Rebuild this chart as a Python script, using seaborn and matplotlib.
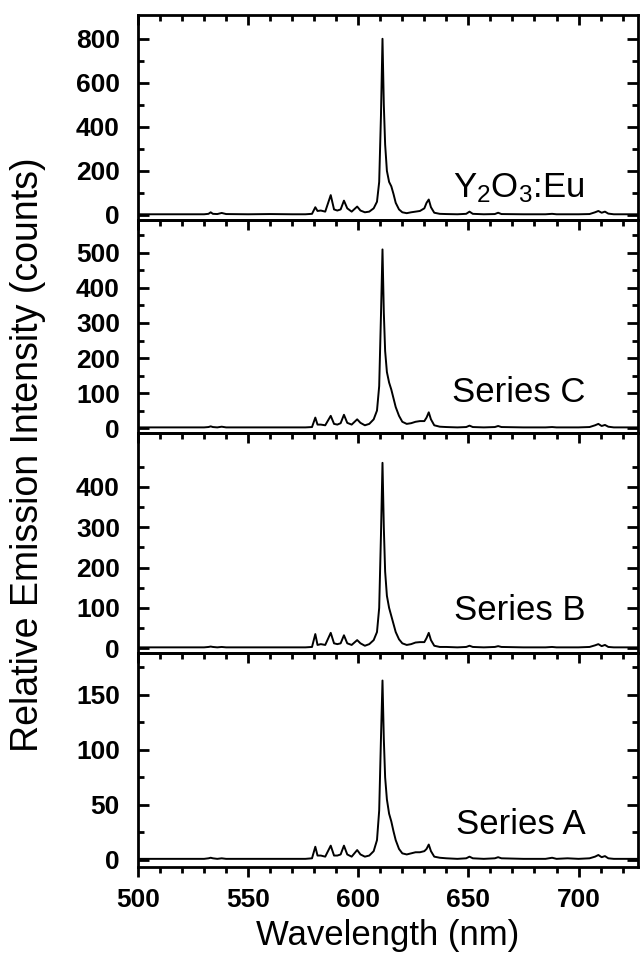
import matplotlib
matplotlib.use("Agg")
import matplotlib.pyplot as plt
from matplotlib.ticker import FixedLocator, MultipleLocator
import seaborn as sns
import pandas as pd

# ---------------- data ----------------
wavelength = [500, 510, 520, 530, 532, 533, 534, 536, 538, 540, 550, 560, 570, 576, 579,
              580.5, 581.5, 583, 585, 587.5, 589, 590.5, 592, 593.5, 595, 597, 599.5, 601,
              603, 605, 607, 608.5, 609.5, 610.3, 611, 611.6, 612.2, 613, 614, 615, 616,
              617, 618.5, 620, 622, 624, 626, 628, 630, 631, 632, 633, 634.5, 637, 640,
              645, 649, 650.5, 652, 657, 662, 663.5, 665, 675, 685, 688, 690, 695, 700,
              705, 707.5, 709, 710.5, 712, 713.5, 716, 720, 728]

y2o3_eu = [3, 3, 3, 3, 5, 12, 5, 4, 9, 4, 3, 4, 3, 3, 5,
           35, 18, 20, 15, 90, 25, 20, 25, 65, 30, 15, 38, 20,
           12, 15, 30, 60, 150, 450, 800, 500, 320, 200, 150, 130, 95,
           55, 25, 12, 8, 12, 15, 18, 30, 55, 70, 35, 10, 5, 4,
           3, 5, 15, 5, 3, 4, 10, 4, 3, 3, 5, 3, 3, 3,
           4, 12, 18, 10, 15, 6, 3, 3, 3]

series_c = [2, 2, 2, 2, 3, 5, 3, 2, 4, 2, 2, 2, 2, 2, 3,
            30, 10, 10, 8, 35, 12, 10, 14, 38, 15, 10, 25, 15,
            8, 12, 25, 50, 120, 320, 510, 330, 220, 160, 130, 110, 85,
            60, 35, 18, 12, 14, 18, 20, 20, 30, 45, 25, 8, 4, 3,
            2, 3, 7, 3, 2, 3, 6, 3, 2, 2, 3, 2, 2, 2,
            3, 8, 12, 6, 9, 4, 2, 2, 2]

series_b = [2, 2, 2, 2, 3, 4, 3, 2, 3, 2, 2, 2, 2, 2, 3,
            35, 8, 10, 8, 38, 12, 10, 12, 32, 12, 8, 20, 12,
            6, 10, 20, 40, 100, 280, 460, 300, 190, 130, 100, 80, 60,
            40, 22, 12, 8, 10, 14, 15, 15, 25, 38, 20, 6, 3, 3,
            2, 3, 6, 3, 2, 3, 5, 3, 2, 2, 3, 2, 2, 2,
            3, 7, 10, 5, 8, 3, 2, 2, 2]

series_a = [1, 1, 1, 1, 1.5, 2, 1.5, 1, 1.5, 1, 1, 1, 1, 1, 1.5,
            12, 4, 4, 3, 13, 4, 4, 5, 13, 5, 3, 9, 5,
            3, 4, 8, 18, 45, 110, 163, 110, 75, 55, 42, 35, 26,
            18, 10, 6, 5, 6, 7, 7, 8, 10, 14, 8, 3, 2, 1.5,
            1, 1.5, 3, 1.5, 1, 1.5, 2.5, 1.5, 1, 1, 2, 1, 1.5, 1,
            1.5, 3, 4.5, 2.5, 3.5, 1.5, 1, 1, 1]

panel_labels = ["Y$_2$O$_3$:Eu", "Series C", "Series B", "Series A"]
x_major_ticks = [500, 550, 600, 650, 700]
y_major_ticks = [[0, 200, 400, 600, 800],
                 [0, 100, 200, 300, 400, 500],
                 [0, 100, 200, 300, 400],
                 [0, 50, 100, 150]]
y_minor_ticks = [[100, 300, 500, 700],
                 [50, 150, 250, 350, 450, 550],
                 [50, 150, 250, 350, 450],
                 [25, 75, 125, 175]]

# ---------------- style ----------------
sns.set_style("ticks")
plt.rcParams["font.family"] = ["Liberation Sans", "DejaVu Sans"]
plt.rcParams["mathtext.fontset"] = "custom"
plt.rcParams["mathtext.rm"] = "Liberation Sans"
plt.rcParams["mathtext.it"] = "Liberation Sans"
plt.rcParams["axes.linewidth"] = 2.0
for key in ["text.color", "axes.labelcolor", "xtick.color", "ytick.color", "axes.edgecolor"]:
    plt.rcParams[key] = "black"

fig = plt.figure(figsize=(6.41, 9.59), dpi=100)
W, H = 641.0, 959.0
left_px, right_px = 138, 638
bounds_px = [15, 220, 433, 653, 867]
ylims = [(-23, 908), (-14, 594), (-12, 534), (-6.4, 188)]
label_y = [81, 74, 69, 24]
series_list = [y2o3_eu, series_c, series_b, series_a]

axes = []
for i in range(4):
    top, bot = bounds_px[i], bounds_px[i + 1]
    ax = fig.add_axes([left_px / W, 1 - bot / H, (right_px - left_px) / W, (bot - top) / H])
    ax.patch.set_visible(False)
    df = pd.DataFrame({"wl": wavelength, "I": series_list[i]})
    sns.lineplot(data=df, x="wl", y="I", ax=ax, color="black", linewidth=1.4,
                 estimator=None, sort=False)
    ax.set_xlim(500, 727)
    ax.set_ylim(*ylims[i])
    ax.xaxis.set_major_locator(FixedLocator(x_major_ticks))
    ax.xaxis.set_minor_locator(MultipleLocator(10))
    ax.yaxis.set_major_locator(FixedLocator(y_major_ticks[i]))
    ax.yaxis.set_minor_locator(FixedLocator(y_minor_ticks[i]))
    ax.tick_params(axis="y", which="both", direction="in", left=True, right=True,
                   width=2, labelsize=19, pad=13)
    ax.tick_params(axis="y", which="major", length=8)
    ax.tick_params(axis="y", which="minor", length=4.5)
    ax.set_xlabel("")
    ax.set_ylabel("")
    for lab in ax.get_yticklabels():
        lab.set_fontweight("bold")
    if i < 3:
        ax.tick_params(axis="x", which="both", direction="in", top=True, bottom=False,
                       labelbottom=False, width=2)
        ax.tick_params(axis="x", which="major", length=7)
        ax.tick_params(axis="x", which="minor", length=4.5)
    else:
        ax.tick_params(axis="x", which="both", direction="out", top=False, bottom=True,
                       labelbottom=True, width=2, labelsize=19, pad=8)
        ax.tick_params(axis="x", which="major", length=7)
        ax.tick_params(axis="x", which="minor", length=4.5)
        for lab in ax.get_xticklabels():
            lab.set_fontweight("bold")
        sec = ax.secondary_xaxis("top")
        sec.xaxis.set_major_locator(FixedLocator(x_major_ticks))
        sec.xaxis.set_minor_locator(MultipleLocator(10))
        sec.tick_params(axis="x", which="both", direction="in", labeltop=False, width=2)
        sec.tick_params(axis="x", which="major", length=7)
        sec.tick_params(axis="x", which="minor", length=4.5)
        sec.spines["top"].set_visible(False)
        ax.set_xlabel("Wavelength (nm)", fontsize=25, labelpad=5)
    for s in ax.spines.values():
        s.set_visible(True)
        s.set_linewidth(2)
    ax.text(703, label_y[i], panel_labels[i], fontsize=25, ha="right", va="baseline",
            color="black")
    axes.append(ax)

fig.text(28 / W, 1 - 455 / H, "Relative Emission Intensity (counts)", rotation=90,
         fontsize=27, ha="center", va="center")

fig.savefig("out.png", dpi=100)
